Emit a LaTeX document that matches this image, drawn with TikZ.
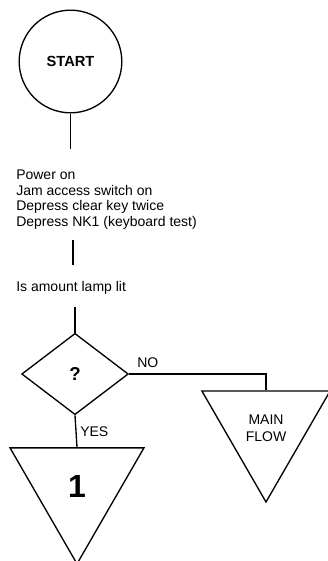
\documentclass[tikz,border=0pt]{standalone}
\usepackage{fontspec}
\setmainfont{Liberation Sans}
\usepackage{tikz}
\usetikzlibrary{positioning,shapes.geometric,calc}
\tikzset{
  flowline/.style={line width=1pt,black},
  terminal/.style={draw,circle,line width=1pt,minimum size=77pt,inner sep=0pt,
                   font=\fontsize{11}{13}\selectfont\bfseries},
  decision/.style={draw,diamond,line width=1pt,minimum width=80pt,
                   minimum height=61pt,inner sep=0pt,
                   font=\fontsize{14}{16}\selectfont\bfseries},
  connector/.style={draw,regular polygon,regular polygon sides=3,
                    shape border rotate=180,line width=1pt,inner sep=0pt},
  steptext/.style={anchor=west,align=left,inner sep=0pt,
                   font=\fontsize{10.5}{11.8}\selectfont},
  branch/.style={inner sep=0pt,font=\fontsize{10.5}{12}\selectfont},
}
\begin{document}
\begin{tikzpicture}[x=0.75pt,y=-0.75pt]
  \useasboundingbox (0,0) rectangle (328,561);
  % Start
  \node[terminal] (start) at (70.5,61.5) {START};
  % Steps
  \node[steptext] (steps) at (16,199.5)
    {Power on\\Jam access switch on\\Depress clear key twice\\
     Depress NK1 (keyboard test)};
  \node[steptext] (lamp) at (16,288) {Is amount lamp lit};
  % Decision
  \node[decision] (q) at (75,374) {?};
  % Off-page connectors
  \node[connector,minimum size=116pt,
        font=\fontsize{24}{26}\selectfont\bfseries] (one) at (77,486.5) {1};
  \node[connector,minimum size=111pt,align=center,
        font=\fontsize{10.5}{12.5}\selectfont] (main) at (266,428) {MAIN\\FLOW};
  % Free line ends
  \coordinate (c1) at (70.5,149);
  \coordinate (c2) at (73,240);
  \coordinate (c3) at (73,265);
  \coordinate (c4) at (75,307);
  % Lines
  \draw[flowline] (start.south) -- (c1);
  \draw[flowline] (c2) -- (c3);
  \draw[flowline] (c4) -- (q.north);
  \draw[flowline] (q.east) -| (main.north);
  \draw[flowline] (q.south) -- (one.north);
  % Branch labels
  \node[branch,anchor=south west] (no) at (137,368) {NO};
  \node[branch,anchor=west] (yes) at (80,432) {YES};
\end{tikzpicture}
\end{document}
